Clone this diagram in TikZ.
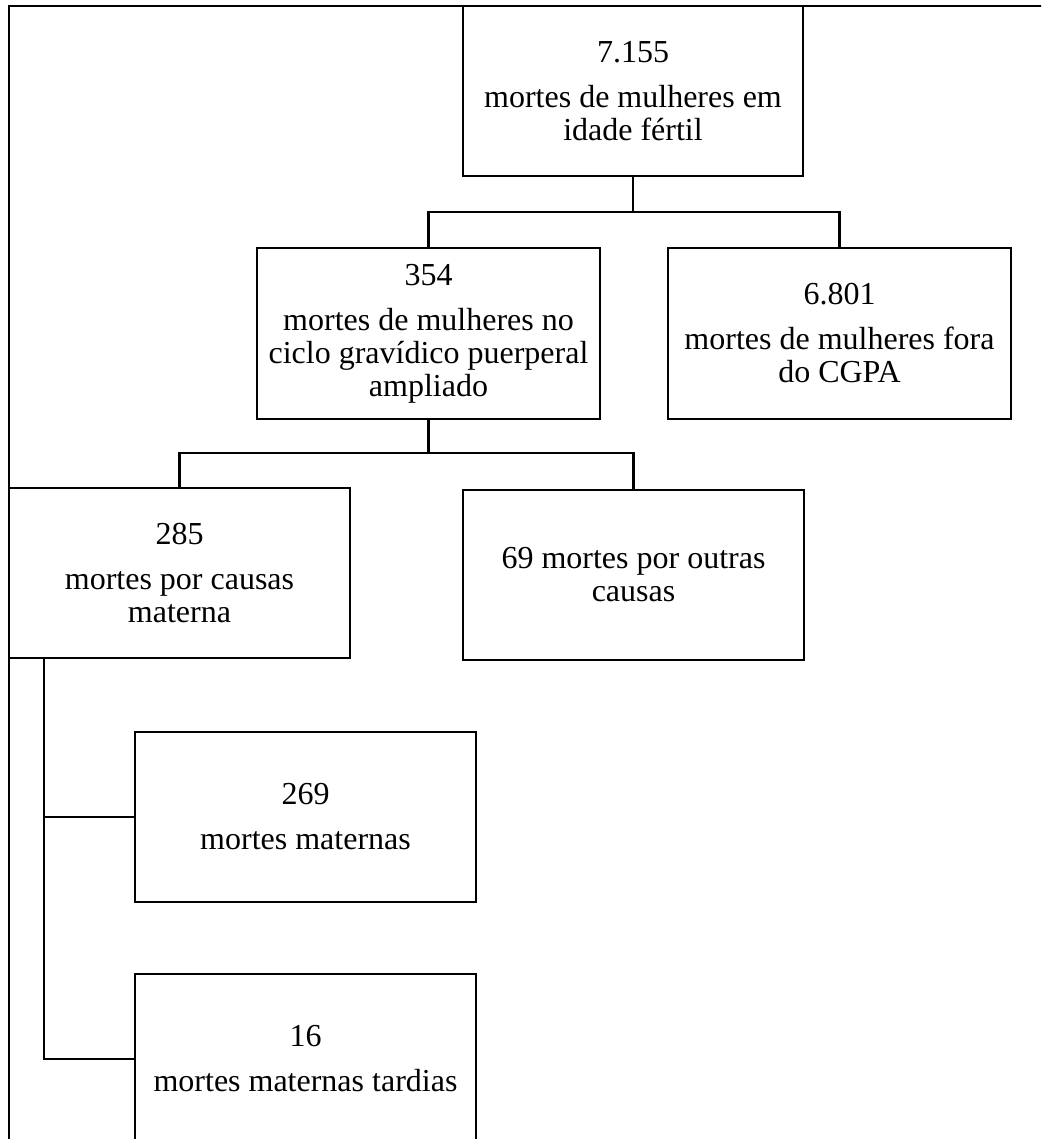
\documentclass[tikz,border=0pt]{standalone}
\usepackage{fontspec}
\setmainfont{Liberation Serif}
\begin{document}
\begin{tikzpicture}[x=1pt,y=-1pt,
  box/.style={draw, line width=2.4pt, rectangle, align=center, inner sep=0pt,
    minimum width=#1, font=\fontsize{32}{33}\selectfont, minimum height=170pt},
  box/.default=341pt,
  conn/.style={line width=2.4pt}]
\useasboundingbox (0,0) rectangle (1041,1139);
\clip (0,0) rectangle (1041,1139);
% outer frame
\draw[conn] (9,1200) -- (9,6) -- (1100,6);
% boxes
\node[box=340pt] (top) at (633,91) {7.155\\[12pt]mortes de mulheres em\\idade fértil};
\node[box=343pt, minimum height=171pt] (b354) at (428.5,333.5) {354\\[12pt]mortes de mulheres no\\ciclo gravídico puerperal\\ampliado};
\node[box=343pt, minimum height=171pt] (b6801) at (839.5,333.5) {6.801\\[12pt]mortes de mulheres fora\\do CGPA};
\node[box] (b285) at (179.5,573) {285\\[12pt]mortes por causas\\materna};
\node[box] (b69) at (633.5,575) {69 mortes por outras\\causas};
\node[box] (b269) at (305.5,817) {269\\[12pt]mortes maternas};
\node[box] (b16) at (305.5,1059) {16\\[12pt]mortes maternas tardias};
% junctions
\coordinate (j1) at (633,212);
\coordinate (j2) at (428.5,453);
\coordinate (j3) at (44,658);
% connectors
\draw[conn] (top.south) -- (j1);
\draw[conn] (b354.north) |- (j1);
\draw[conn] (b6801.north) |- (j1);
\draw[conn] (b354.south) -- (j2);
\draw[conn] (b285.north) |- (j2);
\draw[conn] (b69.north) |- (j2);
\draw[conn] (j3) |- (b269.west);
\draw[conn] (j3) |- (b16.west);
\end{tikzpicture}
\end{document}
